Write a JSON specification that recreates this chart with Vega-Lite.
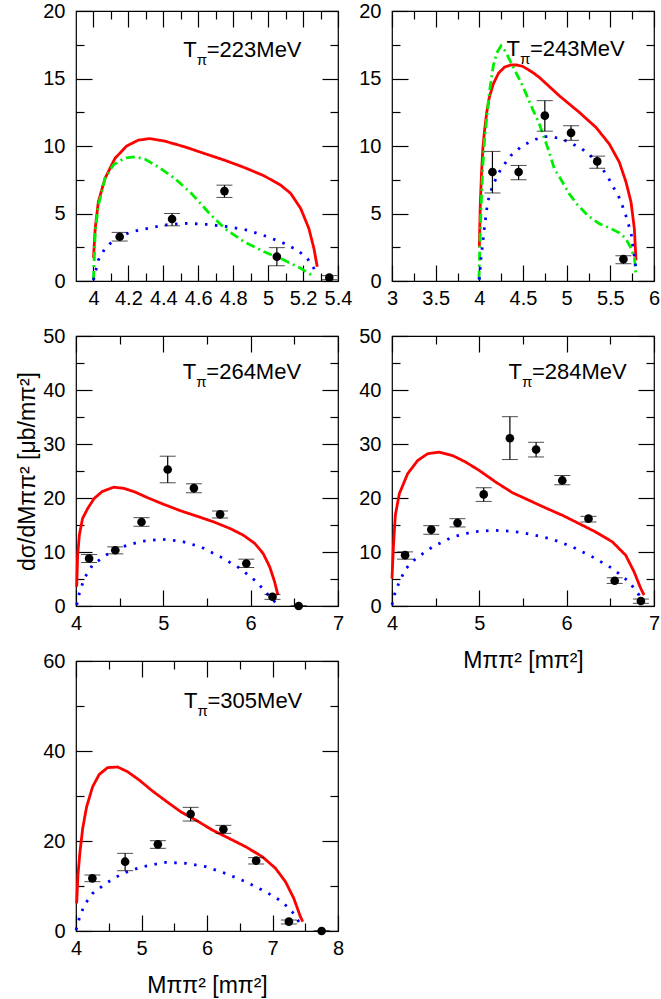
{
  "$schema": "https://vega.github.io/schema/vega-lite/v6.json",
  "description": "Dipion invariant mass spectra, five beam energies",
  "padding": {"left": 16, "top": 0, "right": 0, "bottom": 0},
  "background": "white",
  "datasets": {
    "points": [
      {"p": "p1", "x": 4.15, "y": 3.28, "lo": 2.96, "hi": 3.6},
      {"p": "p1", "x": 4.45, "y": 4.59, "lo": 4.09, "hi": 5.0},
      {"p": "p1", "x": 4.75, "y": 6.66, "lo": 6.19, "hi": 7.1},
      {"p": "p1", "x": 5.05, "y": 1.8, "lo": 1.13, "hi": 2.47},
      {"p": "p1", "x": 5.35, "y": 0.25, "lo": 0.1, "hi": 0.4},
      {"p": "p2", "x": 4.15, "y": 8.07, "lo": 6.52, "hi": 9.6},
      {"p": "p2", "x": 4.45, "y": 8.07, "lo": 7.5, "hi": 8.56},
      {"p": "p2", "x": 4.75, "y": 12.25, "lo": 11.1, "hi": 13.36},
      {"p": "p2", "x": 5.05, "y": 10.97, "lo": 10.42, "hi": 11.5},
      {"p": "p2", "x": 5.35, "y": 8.86, "lo": 8.35, "hi": 9.25},
      {"p": "p2", "x": 5.65, "y": 1.62, "lo": 1.28, "hi": 1.87},
      {"p": "p3", "x": 4.15, "y": 8.8, "lo": 8.06, "hi": 9.53},
      {"p": "p3", "x": 4.45, "y": 10.33, "lo": 9.66, "hi": 10.95},
      {"p": "p3", "x": 4.75, "y": 15.56, "lo": 14.76, "hi": 16.36},
      {"p": "p3", "x": 5.05, "y": 25.28, "lo": 22.82, "hi": 27.74},
      {"p": "p3", "x": 5.35, "y": 21.83, "lo": 20.97, "hi": 22.63},
      {"p": "p3", "x": 5.65, "y": 16.97, "lo": 16.3, "hi": 17.59},
      {"p": "p3", "x": 5.95, "y": 7.87, "lo": 7.13, "hi": 8.67},
      {"p": "p3", "x": 6.25, "y": 1.72, "lo": 1.23, "hi": 2.15},
      {"p": "p3", "x": 6.55, "y": 0.0, "lo": 0.0, "hi": 0.0},
      {"p": "p4", "x": 4.15, "y": 9.41, "lo": 8.67, "hi": 10.02},
      {"p": "p4", "x": 4.45, "y": 14.15, "lo": 13.28, "hi": 14.88},
      {"p": "p4", "x": 4.75, "y": 15.38, "lo": 14.64, "hi": 16.17},
      {"p": "p4", "x": 5.05, "y": 20.66, "lo": 19.37, "hi": 21.9},
      {"p": "p4", "x": 5.35, "y": 31.06, "lo": 27.12, "hi": 35.06},
      {"p": "p4", "x": 5.65, "y": 28.97, "lo": 27.6, "hi": 30.32},
      {"p": "p4", "x": 5.95, "y": 23.25, "lo": 22.45, "hi": 24.17},
      {"p": "p4", "x": 6.25, "y": 16.17, "lo": 15.56, "hi": 16.6},
      {"p": "p4", "x": 6.55, "y": 4.67, "lo": 4.18, "hi": 5.23},
      {"p": "p4", "x": 6.85, "y": 0.92, "lo": 0.49, "hi": 1.29},
      {"p": "p5", "x": 4.25, "y": 11.7, "lo": 10.96, "hi": 12.44},
      {"p": "p5", "x": 4.75, "y": 15.4, "lo": 13.4, "hi": 17.26},
      {"p": "p5", "x": 5.25, "y": 19.26, "lo": 18.37, "hi": 20.07},
      {"p": "p5", "x": 5.75, "y": 26.0, "lo": 24.44, "hi": 27.48},
      {"p": "p5", "x": 6.25, "y": 22.6, "lo": 21.7, "hi": 23.48},
      {"p": "p5", "x": 6.75, "y": 15.63, "lo": 14.89, "hi": 16.3},
      {"p": "p5", "x": 7.25, "y": 2.07, "lo": 1.56, "hi": 2.44},
      {"p": "p5", "x": 7.75, "y": 0.0, "lo": 0.0, "hi": 0.0}
    ],
    "labels": [
      {"p": "p1", "x": 4.514, "y": 16.62, "e": "=223MeV"},
      {"p": "p2", "x": 4.31, "y": 16.63, "e": "=243MeV"},
      {"p": "p3", "x": 5.223, "y": 42.1, "e": "=264MeV"},
      {"p": "p4", "x": 5.333, "y": 42.1, "e": "=284MeV"},
      {"p": "p5", "x": 5.649, "y": 49.6, "e": "=305MeV"}
    ],
    "curves": [
      {"p": "p1", "s": "full", "x": 4.0, "y": 1.7},
      {"p": "p1", "s": "full", "x": 4.01, "y": 3.9},
      {"p": "p1", "s": "full", "x": 4.028, "y": 5.87},
      {"p": "p1", "s": "full", "x": 4.066, "y": 7.6},
      {"p": "p1", "s": "full", "x": 4.123, "y": 9.08},
      {"p": "p1", "s": "full", "x": 4.19, "y": 10.0},
      {"p": "p1", "s": "full", "x": 4.256, "y": 10.43},
      {"p": "p1", "s": "full", "x": 4.323, "y": 10.55},
      {"p": "p1", "s": "full", "x": 4.408, "y": 10.36},
      {"p": "p1", "s": "full", "x": 4.522, "y": 9.94},
      {"p": "p1", "s": "full", "x": 4.636, "y": 9.44},
      {"p": "p1", "s": "full", "x": 4.75, "y": 8.95},
      {"p": "p1", "s": "full", "x": 4.863, "y": 8.41},
      {"p": "p1", "s": "full", "x": 4.977, "y": 7.79},
      {"p": "p1", "s": "full", "x": 5.072, "y": 7.1},
      {"p": "p1", "s": "full", "x": 5.129, "y": 6.49},
      {"p": "p1", "s": "full", "x": 5.186, "y": 5.38},
      {"p": "p1", "s": "full", "x": 5.233, "y": 3.9},
      {"p": "p1", "s": "full", "x": 5.262, "y": 2.42},
      {"p": "p1", "s": "full", "x": 5.281, "y": 1.06},
      {"p": "p1", "s": "dashdot", "x": 4.0, "y": 0.07},
      {"p": "p1", "s": "dashdot", "x": 4.01, "y": 3.65},
      {"p": "p1", "s": "dashdot", "x": 4.028, "y": 5.6},
      {"p": "p1", "s": "dashdot", "x": 4.066, "y": 7.6},
      {"p": "p1", "s": "dashdot", "x": 4.114, "y": 8.6},
      {"p": "p1", "s": "dashdot", "x": 4.18, "y": 9.12},
      {"p": "p1", "s": "dashdot", "x": 4.237, "y": 9.2},
      {"p": "p1", "s": "dashdot", "x": 4.294, "y": 9.03},
      {"p": "p1", "s": "dashdot", "x": 4.37, "y": 8.46},
      {"p": "p1", "s": "dashdot", "x": 4.465, "y": 7.6},
      {"p": "p1", "s": "dashdot", "x": 4.56, "y": 6.5},
      {"p": "p1", "s": "dashdot", "x": 4.655, "y": 5.13},
      {"p": "p1", "s": "dashdot", "x": 4.75, "y": 3.9},
      {"p": "p1", "s": "dashdot", "x": 4.863, "y": 2.9},
      {"p": "p1", "s": "dashdot", "x": 4.977, "y": 2.17},
      {"p": "p1", "s": "dashdot", "x": 5.091, "y": 1.55},
      {"p": "p1", "s": "dashdot", "x": 5.186, "y": 0.94},
      {"p": "p1", "s": "dashdot", "x": 5.262, "y": 0.32},
      {"p": "p1", "s": "dotted", "x": 4.0, "y": 0.07},
      {"p": "p1", "s": "dotted", "x": 4.028, "y": 1.55},
      {"p": "p1", "s": "dotted", "x": 4.066, "y": 2.42},
      {"p": "p1", "s": "dotted", "x": 4.123, "y": 3.1},
      {"p": "p1", "s": "dotted", "x": 4.218, "y": 3.65},
      {"p": "p1", "s": "dotted", "x": 4.313, "y": 3.9},
      {"p": "p1", "s": "dotted", "x": 4.427, "y": 4.19},
      {"p": "p1", "s": "dotted", "x": 4.54, "y": 4.27},
      {"p": "p1", "s": "dotted", "x": 4.655, "y": 4.19},
      {"p": "p1", "s": "dotted", "x": 4.769, "y": 4.02},
      {"p": "p1", "s": "dotted", "x": 4.882, "y": 3.77},
      {"p": "p1", "s": "dotted", "x": 4.996, "y": 3.28},
      {"p": "p1", "s": "dotted", "x": 5.091, "y": 2.79},
      {"p": "p1", "s": "dotted", "x": 5.167, "y": 2.29},
      {"p": "p1", "s": "dotted", "x": 5.224, "y": 1.68},
      {"p": "p1", "s": "dotted", "x": 5.262, "y": 0.94},
      {"p": "p1", "s": "dotted", "x": 5.281, "y": 0.4},
      {"p": "p2", "s": "full", "x": 4.0, "y": 2.5},
      {"p": "p2", "s": "full", "x": 4.01, "y": 5.5},
      {"p": "p2", "s": "full", "x": 4.025, "y": 8.0},
      {"p": "p2", "s": "full", "x": 4.04, "y": 9.8},
      {"p": "p2", "s": "full", "x": 4.057, "y": 11.0},
      {"p": "p2", "s": "full", "x": 4.085, "y": 12.5},
      {"p": "p2", "s": "full", "x": 4.114, "y": 13.6},
      {"p": "p2", "s": "full", "x": 4.16, "y": 14.6},
      {"p": "p2", "s": "full", "x": 4.22, "y": 15.4},
      {"p": "p2", "s": "full", "x": 4.29, "y": 15.85},
      {"p": "p2", "s": "full", "x": 4.362, "y": 16.0},
      {"p": "p2", "s": "full", "x": 4.43, "y": 16.0},
      {"p": "p2", "s": "full", "x": 4.496, "y": 15.9},
      {"p": "p2", "s": "full", "x": 4.6, "y": 15.5},
      {"p": "p2", "s": "full", "x": 4.687, "y": 15.08},
      {"p": "p2", "s": "full", "x": 4.8, "y": 14.41},
      {"p": "p2", "s": "full", "x": 4.916, "y": 13.72},
      {"p": "p2", "s": "full", "x": 5.145, "y": 12.49},
      {"p": "p2", "s": "full", "x": 5.336, "y": 11.38},
      {"p": "p2", "s": "full", "x": 5.488, "y": 10.15},
      {"p": "p2", "s": "full", "x": 5.603, "y": 8.8},
      {"p": "p2", "s": "full", "x": 5.68, "y": 7.32},
      {"p": "p2", "s": "full", "x": 5.737, "y": 5.84},
      {"p": "p2", "s": "full", "x": 5.775, "y": 3.87},
      {"p": "p2", "s": "full", "x": 5.794, "y": 1.53},
      {"p": "p2", "s": "dashdot", "x": 3.995, "y": 0.1},
      {"p": "p2", "s": "dashdot", "x": 4.005, "y": 2.4},
      {"p": "p2", "s": "dashdot", "x": 4.02, "y": 5.5},
      {"p": "p2", "s": "dashdot", "x": 4.04, "y": 8.5},
      {"p": "p2", "s": "dashdot", "x": 4.06, "y": 10.5},
      {"p": "p2", "s": "dashdot", "x": 4.076, "y": 11.5},
      {"p": "p2", "s": "dashdot", "x": 4.114, "y": 13.97},
      {"p": "p2", "s": "dashdot", "x": 4.16, "y": 15.94},
      {"p": "p2", "s": "dashdot", "x": 4.2, "y": 16.9},
      {"p": "p2", "s": "dashdot", "x": 4.248, "y": 17.42},
      {"p": "p2", "s": "dashdot", "x": 4.3, "y": 17.0},
      {"p": "p2", "s": "dashdot", "x": 4.381, "y": 15.94},
      {"p": "p2", "s": "dashdot", "x": 4.496, "y": 14.46},
      {"p": "p2", "s": "dashdot", "x": 4.61, "y": 12.73},
      {"p": "p2", "s": "dashdot", "x": 4.687, "y": 11.63},
      {"p": "p2", "s": "dashdot", "x": 4.801, "y": 9.53},
      {"p": "p2", "s": "dashdot", "x": 4.859, "y": 8.3},
      {"p": "p2", "s": "dashdot", "x": 4.935, "y": 7.52},
      {"p": "p2", "s": "dashdot", "x": 5.03, "y": 6.45},
      {"p": "p2", "s": "dashdot", "x": 5.125, "y": 5.64},
      {"p": "p2", "s": "dashdot", "x": 5.24, "y": 4.86},
      {"p": "p2", "s": "dashdot", "x": 5.374, "y": 4.24},
      {"p": "p2", "s": "dashdot", "x": 5.488, "y": 3.94},
      {"p": "p2", "s": "dashdot", "x": 5.603, "y": 3.57},
      {"p": "p2", "s": "dashdot", "x": 5.672, "y": 3.18},
      {"p": "p2", "s": "dashdot", "x": 5.725, "y": 2.59},
      {"p": "p2", "s": "dashdot", "x": 5.775, "y": 1.77},
      {"p": "p2", "s": "dashdot", "x": 5.794, "y": 0.42},
      {"p": "p2", "s": "dotted", "x": 4.0, "y": 0.1},
      {"p": "p2", "s": "dotted", "x": 4.019, "y": 1.67},
      {"p": "p2", "s": "dotted", "x": 4.057, "y": 3.89},
      {"p": "p2", "s": "dotted", "x": 4.095, "y": 5.85},
      {"p": "p2", "s": "dotted", "x": 4.153, "y": 7.08},
      {"p": "p2", "s": "dotted", "x": 4.248, "y": 8.31},
      {"p": "p2", "s": "dotted", "x": 4.362, "y": 9.3},
      {"p": "p2", "s": "dotted", "x": 4.496, "y": 10.04},
      {"p": "p2", "s": "dotted", "x": 4.648, "y": 10.5},
      {"p": "p2", "s": "dotted", "x": 4.75, "y": 10.7},
      {"p": "p2", "s": "dotted", "x": 4.86, "y": 10.65},
      {"p": "p2", "s": "dotted", "x": 4.973, "y": 10.44},
      {"p": "p2", "s": "dotted", "x": 5.068, "y": 10.15},
      {"p": "p2", "s": "dotted", "x": 5.175, "y": 9.78},
      {"p": "p2", "s": "dotted", "x": 5.267, "y": 9.33},
      {"p": "p2", "s": "dotted", "x": 5.412, "y": 8.3},
      {"p": "p2", "s": "dotted", "x": 5.48, "y": 7.61},
      {"p": "p2", "s": "dotted", "x": 5.534, "y": 6.95},
      {"p": "p2", "s": "dotted", "x": 5.591, "y": 6.33},
      {"p": "p2", "s": "dotted", "x": 5.634, "y": 5.64},
      {"p": "p2", "s": "dotted", "x": 5.672, "y": 4.97},
      {"p": "p2", "s": "dotted", "x": 5.706, "y": 4.24},
      {"p": "p2", "s": "dotted", "x": 5.737, "y": 3.57},
      {"p": "p2", "s": "dotted", "x": 5.767, "y": 2.14},
      {"p": "p2", "s": "dotted", "x": 5.786, "y": 1.4},
      {"p": "p2", "s": "dotted", "x": 5.794, "y": 0.67},
      {"p": "p3", "s": "full", "x": 4.008, "y": 3.57},
      {"p": "p3", "s": "full", "x": 4.019, "y": 9.4},
      {"p": "p3", "s": "full", "x": 4.038, "y": 13.1},
      {"p": "p3", "s": "full", "x": 4.075, "y": 16.2},
      {"p": "p3", "s": "full", "x": 4.132, "y": 18.0},
      {"p": "p3", "s": "full", "x": 4.207, "y": 19.9},
      {"p": "p3", "s": "full", "x": 4.3, "y": 21.2},
      {"p": "p3", "s": "full", "x": 4.432, "y": 22.0},
      {"p": "p3", "s": "full", "x": 4.545, "y": 21.8},
      {"p": "p3", "s": "full", "x": 4.677, "y": 21.1},
      {"p": "p3", "s": "full", "x": 4.827, "y": 20.0},
      {"p": "p3", "s": "full", "x": 5.015, "y": 18.76},
      {"p": "p3", "s": "full", "x": 5.203, "y": 17.6},
      {"p": "p3", "s": "full", "x": 5.391, "y": 16.6},
      {"p": "p3", "s": "full", "x": 5.579, "y": 15.56},
      {"p": "p3", "s": "full", "x": 5.767, "y": 14.33},
      {"p": "p3", "s": "full", "x": 5.917, "y": 13.1},
      {"p": "p3", "s": "full", "x": 6.049, "y": 11.56},
      {"p": "p3", "s": "full", "x": 6.143, "y": 9.72},
      {"p": "p3", "s": "full", "x": 6.218, "y": 7.26},
      {"p": "p3", "s": "full", "x": 6.274, "y": 4.49},
      {"p": "p3", "s": "full", "x": 6.312, "y": 2.03},
      {"p": "p3", "s": "dotted", "x": 4.008, "y": 0.2},
      {"p": "p3", "s": "dotted", "x": 4.038, "y": 2.3},
      {"p": "p3", "s": "dotted", "x": 4.094, "y": 5.1},
      {"p": "p3", "s": "dotted", "x": 4.188, "y": 7.56},
      {"p": "p3", "s": "dotted", "x": 4.338, "y": 9.4},
      {"p": "p3", "s": "dotted", "x": 4.526, "y": 10.95},
      {"p": "p3", "s": "dotted", "x": 4.752, "y": 12.0},
      {"p": "p3", "s": "dotted", "x": 4.977, "y": 12.36},
      {"p": "p3", "s": "dotted", "x": 5.203, "y": 12.0},
      {"p": "p3", "s": "dotted", "x": 5.429, "y": 10.95},
      {"p": "p3", "s": "dotted", "x": 5.654, "y": 9.1},
      {"p": "p3", "s": "dotted", "x": 5.88, "y": 6.95},
      {"p": "p3", "s": "dotted", "x": 6.068, "y": 4.49},
      {"p": "p3", "s": "dotted", "x": 6.2, "y": 2.03},
      {"p": "p3", "s": "dotted", "x": 6.293, "y": 0.5},
      {"p": "p4", "s": "full", "x": 4.0, "y": 5.1},
      {"p": "p4", "s": "full", "x": 4.015, "y": 10.64},
      {"p": "p4", "s": "full", "x": 4.038, "y": 16.8},
      {"p": "p4", "s": "full", "x": 4.084, "y": 20.8},
      {"p": "p4", "s": "full", "x": 4.179, "y": 24.5},
      {"p": "p4", "s": "full", "x": 4.294, "y": 26.94},
      {"p": "p4", "s": "full", "x": 4.408, "y": 28.2},
      {"p": "p4", "s": "full", "x": 4.541, "y": 28.5},
      {"p": "p4", "s": "full", "x": 4.694, "y": 27.86},
      {"p": "p4", "s": "full", "x": 4.846, "y": 26.63},
      {"p": "p4", "s": "full", "x": 4.999, "y": 25.1},
      {"p": "p4", "s": "full", "x": 5.189, "y": 22.94},
      {"p": "p4", "s": "full", "x": 5.38, "y": 20.97},
      {"p": "p4", "s": "full", "x": 5.571, "y": 19.56},
      {"p": "p4", "s": "full", "x": 5.761, "y": 18.14},
      {"p": "p4", "s": "full", "x": 5.952, "y": 16.79},
      {"p": "p4", "s": "full", "x": 6.143, "y": 15.25},
      {"p": "p4", "s": "full", "x": 6.333, "y": 13.7},
      {"p": "p4", "s": "full", "x": 6.524, "y": 11.87},
      {"p": "p4", "s": "full", "x": 6.676, "y": 9.4},
      {"p": "p4", "s": "full", "x": 6.772, "y": 6.33},
      {"p": "p4", "s": "full", "x": 6.848, "y": 3.26},
      {"p": "p4", "s": "full", "x": 6.886, "y": 2.03},
      {"p": "p4", "s": "dotted", "x": 4.0, "y": 0.2},
      {"p": "p4", "s": "dotted", "x": 4.027, "y": 2.03},
      {"p": "p4", "s": "dotted", "x": 4.084, "y": 4.49},
      {"p": "p4", "s": "dotted", "x": 4.16, "y": 6.95},
      {"p": "p4", "s": "dotted", "x": 4.274, "y": 8.8},
      {"p": "p4", "s": "dotted", "x": 4.465, "y": 10.95},
      {"p": "p4", "s": "dotted", "x": 4.694, "y": 12.79},
      {"p": "p4", "s": "dotted", "x": 4.923, "y": 13.71},
      {"p": "p4", "s": "dotted", "x": 5.151, "y": 14.02},
      {"p": "p4", "s": "dotted", "x": 5.38, "y": 13.84},
      {"p": "p4", "s": "dotted", "x": 5.609, "y": 13.22},
      {"p": "p4", "s": "dotted", "x": 5.838, "y": 12.36},
      {"p": "p4", "s": "dotted", "x": 6.066, "y": 10.95},
      {"p": "p4", "s": "dotted", "x": 6.295, "y": 9.1},
      {"p": "p4", "s": "dotted", "x": 6.524, "y": 6.95},
      {"p": "p4", "s": "dotted", "x": 6.714, "y": 4.49},
      {"p": "p4", "s": "dotted", "x": 6.829, "y": 2.03},
      {"p": "p4", "s": "dotted", "x": 6.859, "y": 0.8},
      {"p": "p5", "s": "full", "x": 4.01, "y": 6.15},
      {"p": "p5", "s": "full", "x": 4.03, "y": 12.44},
      {"p": "p5", "s": "full", "x": 4.061, "y": 17.63},
      {"p": "p5", "s": "full", "x": 4.102, "y": 22.8},
      {"p": "p5", "s": "full", "x": 4.162, "y": 27.6},
      {"p": "p5", "s": "full", "x": 4.254, "y": 32.07},
      {"p": "p5", "s": "full", "x": 4.355, "y": 34.8},
      {"p": "p5", "s": "full", "x": 4.482, "y": 36.3},
      {"p": "p5", "s": "full", "x": 4.635, "y": 36.44},
      {"p": "p5", "s": "full", "x": 4.787, "y": 35.4},
      {"p": "p5", "s": "full", "x": 4.964, "y": 33.56},
      {"p": "p5", "s": "full", "x": 5.168, "y": 31.1},
      {"p": "p5", "s": "full", "x": 5.371, "y": 28.9},
      {"p": "p5", "s": "full", "x": 5.599, "y": 26.5},
      {"p": "p5", "s": "full", "x": 5.827, "y": 24.67},
      {"p": "p5", "s": "full", "x": 6.081, "y": 22.44},
      {"p": "p5", "s": "full", "x": 6.335, "y": 20.6},
      {"p": "p5", "s": "full", "x": 6.589, "y": 18.74},
      {"p": "p5", "s": "full", "x": 6.843, "y": 16.52},
      {"p": "p5", "s": "full", "x": 7.046, "y": 13.93},
      {"p": "p5", "s": "full", "x": 7.198, "y": 10.96},
      {"p": "p5", "s": "full", "x": 7.325, "y": 7.26},
      {"p": "p5", "s": "full", "x": 7.426, "y": 3.19},
      {"p": "p5", "s": "full", "x": 7.462, "y": 2.07},
      {"p": "p5", "s": "dotted", "x": 4.0, "y": 0.2},
      {"p": "p5", "s": "dotted", "x": 4.051, "y": 2.8},
      {"p": "p5", "s": "dotted", "x": 4.127, "y": 5.78},
      {"p": "p5", "s": "dotted", "x": 4.254, "y": 8.37},
      {"p": "p5", "s": "dotted", "x": 4.457, "y": 10.6},
      {"p": "p5", "s": "dotted", "x": 4.711, "y": 12.8},
      {"p": "p5", "s": "dotted", "x": 5.015, "y": 14.3},
      {"p": "p5", "s": "dotted", "x": 5.371, "y": 15.26},
      {"p": "p5", "s": "dotted", "x": 5.675, "y": 15.04},
      {"p": "p5", "s": "dotted", "x": 5.98, "y": 14.3},
      {"p": "p5", "s": "dotted", "x": 6.284, "y": 12.8},
      {"p": "p5", "s": "dotted", "x": 6.589, "y": 10.96},
      {"p": "p5", "s": "dotted", "x": 6.893, "y": 8.74},
      {"p": "p5", "s": "dotted", "x": 7.147, "y": 6.52},
      {"p": "p5", "s": "dotted", "x": 7.299, "y": 4.3},
      {"p": "p5", "s": "dotted", "x": 7.401, "y": 2.07},
      {"p": "p5", "s": "dotted", "x": 7.462, "y": 0.6}
    ]
  },
  "columns": 2,
  "bounds": "flush",
  "spacing": {"row": 55, "column": 54},
  "concat": [
    {
      "width": 262, "height": 270,
      "resolve": {"axis": {"x": "independent", "y": "independent"}},
      "layer": [
        {
          "data": {"name": "curves"},
          "transform": [{"filter": "datum.p == 'p1'"}],
          "mark": {"type": "line", "strokeWidth": 2.8},
          "encoding": {
            "x": {"field": "x", "type": "quantitative", "scale": {"domain": [3.9, 5.4], "nice": false, "zero": false},
                  "axis": {"orient": "bottom", "values": [4, 4.2, 4.4, 4.6, 4.8, 5, 5.2, 5.4], "format": "~r", "title": null}},
            "y": {"field": "y", "type": "quantitative", "scale": {"domain": [0, 20], "nice": false},
                  "axis": {"orient": "left", "values": [0, 5, 10, 15, 20], "format": "~r", "title": null}},
            "color": {"field": "s", "type": "nominal", "legend": null,
                      "scale": {"domain": ["full", "dotted", "dashdot"], "range": ["#ff0000", "#0000ff", "#00ee00"]}},
            "strokeDash": {"field": "s", "type": "nominal", "legend": null,
                           "scale": {"domain": ["full", "dotted", "dashdot"], "range": [[1, 0], [2.5, 7.5], [9, 4, 2, 4]]}}
          }
        },
        {
          "data": {"name": "points"},
          "transform": [{"filter": "datum.p == 'p1'"}],
          "mark": {"type": "errorbar", "ticks": {"size": 16, "color": "black", "strokeWidth": 1.2}, "rule": {"color": "black", "strokeWidth": 1.2}},
          "encoding": {
            "x": {"field": "x", "type": "quantitative", "axis": null},
            "y": {"field": "lo", "type": "quantitative", "axis": null},
            "y2": {"field": "hi"}
          }
        },
        {
          "data": {"name": "points"},
          "transform": [{"filter": "datum.p == 'p1'"}],
          "mark": {"type": "circle", "size": 75, "color": "black", "opacity": 1},
          "encoding": {
            "x": {"field": "x", "type": "quantitative", "axis": null},
            "y": {"field": "y", "type": "quantitative", "axis": null}
          }
        },
        {
          "data": {"name": "labels"},
          "transform": [{"filter": "datum.p == 'p1'"}],
          "mark": {"type": "text", "text": "T", "fontSize": 22, "align": "left", "baseline": "alphabetic"},
          "encoding": {"x": {"field": "x", "type": "quantitative", "axis": null}, "y": {"field": "y", "type": "quantitative", "axis": null}}
        },
        {
          "data": {"name": "labels"},
          "transform": [{"filter": "datum.p == 'p1'"}],
          "mark": {"type": "text", "text": "π", "fontSize": 15, "align": "left", "baseline": "alphabetic", "dx": 13.5, "dy": 8},
          "encoding": {"x": {"field": "x", "type": "quantitative", "axis": null}, "y": {"field": "y", "type": "quantitative", "axis": null}}
        },
        {
          "data": {"name": "labels"},
          "transform": [{"filter": "datum.p == 'p1'"}],
          "mark": {"type": "text", "fontSize": 22, "align": "left", "baseline": "alphabetic", "dx": 23.5},
          "encoding": {"x": {"field": "x", "type": "quantitative", "axis": null}, "y": {"field": "y", "type": "quantitative", "axis": null}, "text": {"field": "e"}}
        },
        {
          "data": {"name": "points"},
          "transform": [{"filter": "datum.p == 'p1'"}],
          "mark": {"type": "point", "opacity": 0},
          "encoding": {
            "x": {"field": "x", "type": "quantitative", "axis": {"orient": "bottom", "values": [4.1, 4.3, 4.5, 4.7, 4.9, 5.1, 5.3], "labels": false, "tickSize": -8, "title": null}},
            "y": {"field": "y", "type": "quantitative", "axis": {"orient": "left", "values": [2.5, 7.5, 12.5, 17.5], "labels": false, "tickSize": -8, "title": null}}
          }
        },
        {
          "data": {"name": "points"},
          "transform": [{"filter": "datum.p == 'p1'"}],
          "mark": {"type": "point", "opacity": 0},
          "encoding": {
            "x": {"field": "x", "type": "quantitative", "axis": {"orient": "top", "values": [4, 4.2, 4.4, 4.6, 4.8, 5, 5.2, 5.4], "labels": false, "title": null}},
            "y": {"field": "y", "type": "quantitative", "axis": {"orient": "right", "values": [0, 5, 10, 15, 20], "labels": false, "title": null}}
          }
        },
        {
          "data": {"name": "points"},
          "transform": [{"filter": "datum.p == 'p1'"}],
          "mark": {"type": "point", "opacity": 0},
          "encoding": {
            "x": {"field": "x", "type": "quantitative", "axis": {"orient": "top", "values": [4.1, 4.3, 4.5, 4.7, 4.9, 5.1, 5.3], "labels": false, "tickSize": -8, "title": null}},
            "y": {"field": "y", "type": "quantitative", "axis": {"orient": "right", "values": [2.5, 7.5, 12.5, 17.5], "labels": false, "tickSize": -8, "title": null}}
          }
        }
      ]
    },
    {
      "width": 262, "height": 270,
      "resolve": {"axis": {"x": "independent", "y": "independent"}},
      "layer": [
        {
          "data": {"name": "curves"},
          "transform": [{"filter": "datum.p == 'p2'"}],
          "mark": {"type": "line", "strokeWidth": 2.8},
          "encoding": {
            "x": {"field": "x", "type": "quantitative", "scale": {"domain": [3, 6], "nice": false, "zero": false},
                  "axis": {"orient": "bottom", "values": [3, 3.5, 4, 4.5, 5, 5.5, 6], "format": "~r", "title": null}},
            "y": {"field": "y", "type": "quantitative", "scale": {"domain": [0, 20], "nice": false},
                  "axis": {"orient": "left", "values": [0, 5, 10, 15, 20], "format": "~r", "title": null}},
            "color": {"field": "s", "type": "nominal", "legend": null,
                      "scale": {"domain": ["full", "dotted", "dashdot"], "range": ["#ff0000", "#0000ff", "#00ee00"]}},
            "strokeDash": {"field": "s", "type": "nominal", "legend": null,
                           "scale": {"domain": ["full", "dotted", "dashdot"], "range": [[1, 0], [2.5, 7.5], [9, 4, 2, 4]]}}
          }
        },
        {
          "data": {"name": "points"},
          "transform": [{"filter": "datum.p == 'p2'"}],
          "mark": {"type": "errorbar", "ticks": {"size": 16, "color": "black", "strokeWidth": 1.2}, "rule": {"color": "black", "strokeWidth": 1.2}},
          "encoding": {
            "x": {"field": "x", "type": "quantitative", "axis": null},
            "y": {"field": "lo", "type": "quantitative", "axis": null},
            "y2": {"field": "hi"}
          }
        },
        {
          "data": {"name": "points"},
          "transform": [{"filter": "datum.p == 'p2'"}],
          "mark": {"type": "circle", "size": 75, "color": "black", "opacity": 1},
          "encoding": {
            "x": {"field": "x", "type": "quantitative", "axis": null},
            "y": {"field": "y", "type": "quantitative", "axis": null}
          }
        },
        {
          "data": {"name": "labels"},
          "transform": [{"filter": "datum.p == 'p2'"}],
          "mark": {"type": "text", "text": "T", "fontSize": 22, "align": "left", "baseline": "alphabetic"},
          "encoding": {"x": {"field": "x", "type": "quantitative", "axis": null}, "y": {"field": "y", "type": "quantitative", "axis": null}}
        },
        {
          "data": {"name": "labels"},
          "transform": [{"filter": "datum.p == 'p2'"}],
          "mark": {"type": "text", "text": "π", "fontSize": 15, "align": "left", "baseline": "alphabetic", "dx": 13.5, "dy": 8},
          "encoding": {"x": {"field": "x", "type": "quantitative", "axis": null}, "y": {"field": "y", "type": "quantitative", "axis": null}}
        },
        {
          "data": {"name": "labels"},
          "transform": [{"filter": "datum.p == 'p2'"}],
          "mark": {"type": "text", "fontSize": 22, "align": "left", "baseline": "alphabetic", "dx": 23.5},
          "encoding": {"x": {"field": "x", "type": "quantitative", "axis": null}, "y": {"field": "y", "type": "quantitative", "axis": null}, "text": {"field": "e"}}
        },
        {
          "data": {"name": "points"},
          "transform": [{"filter": "datum.p == 'p2'"}],
          "mark": {"type": "point", "opacity": 0},
          "encoding": {
            "x": {"field": "x", "type": "quantitative", "axis": {"orient": "bottom", "values": [3.25, 3.75, 4.25, 4.75, 5.25, 5.75], "labels": false, "tickSize": -8, "title": null}},
            "y": {"field": "y", "type": "quantitative", "axis": {"orient": "left", "values": [2.5, 7.5, 12.5, 17.5], "labels": false, "tickSize": -8, "title": null}}
          }
        },
        {
          "data": {"name": "points"},
          "transform": [{"filter": "datum.p == 'p2'"}],
          "mark": {"type": "point", "opacity": 0},
          "encoding": {
            "x": {"field": "x", "type": "quantitative", "axis": {"orient": "top", "values": [3, 3.5, 4, 4.5, 5, 5.5, 6], "labels": false, "title": null}},
            "y": {"field": "y", "type": "quantitative", "axis": {"orient": "right", "values": [0, 5, 10, 15, 20], "labels": false, "title": null}}
          }
        },
        {
          "data": {"name": "points"},
          "transform": [{"filter": "datum.p == 'p2'"}],
          "mark": {"type": "point", "opacity": 0},
          "encoding": {
            "x": {"field": "x", "type": "quantitative", "axis": {"orient": "top", "values": [3.25, 3.75, 4.25, 4.75, 5.25, 5.75], "labels": false, "tickSize": -8, "title": null}},
            "y": {"field": "y", "type": "quantitative", "axis": {"orient": "right", "values": [2.5, 7.5, 12.5, 17.5], "labels": false, "tickSize": -8, "title": null}}
          }
        }
      ]
    },
    {
      "width": 262, "height": 270,
      "resolve": {"axis": {"x": "independent", "y": "independent"}},
      "layer": [
        {
          "data": {"name": "curves"},
          "transform": [{"filter": "datum.p == 'p3'"}],
          "mark": {"type": "line", "strokeWidth": 2.8},
          "encoding": {
            "x": {"field": "x", "type": "quantitative", "scale": {"domain": [4, 7], "nice": false, "zero": false},
                  "axis": {"orient": "bottom", "values": [4, 5, 6, 7], "format": "~r", "title": null}},
            "y": {"field": "y", "type": "quantitative", "scale": {"domain": [0, 50], "nice": false},
                  "axis": {"orient": "left", "values": [0, 10, 20, 30, 40, 50], "format": "~r", "title": "dσ/dMππ² [μb/mπ²]"}},
            "color": {"field": "s", "type": "nominal", "legend": null,
                      "scale": {"domain": ["full", "dotted", "dashdot"], "range": ["#ff0000", "#0000ff", "#00ee00"]}},
            "strokeDash": {"field": "s", "type": "nominal", "legend": null,
                           "scale": {"domain": ["full", "dotted", "dashdot"], "range": [[1, 0], [2.5, 7.5], [9, 4, 2, 4]]}}
          }
        },
        {
          "data": {"name": "points"},
          "transform": [{"filter": "datum.p == 'p3'"}],
          "mark": {"type": "errorbar", "ticks": {"size": 16, "color": "black", "strokeWidth": 1.2}, "rule": {"color": "black", "strokeWidth": 1.2}},
          "encoding": {
            "x": {"field": "x", "type": "quantitative", "axis": null},
            "y": {"field": "lo", "type": "quantitative", "axis": null},
            "y2": {"field": "hi"}
          }
        },
        {
          "data": {"name": "points"},
          "transform": [{"filter": "datum.p == 'p3'"}],
          "mark": {"type": "circle", "size": 75, "color": "black", "opacity": 1},
          "encoding": {
            "x": {"field": "x", "type": "quantitative", "axis": null},
            "y": {"field": "y", "type": "quantitative", "axis": null}
          }
        },
        {
          "data": {"name": "labels"},
          "transform": [{"filter": "datum.p == 'p3'"}],
          "mark": {"type": "text", "text": "T", "fontSize": 22, "align": "left", "baseline": "alphabetic"},
          "encoding": {"x": {"field": "x", "type": "quantitative", "axis": null}, "y": {"field": "y", "type": "quantitative", "axis": null}}
        },
        {
          "data": {"name": "labels"},
          "transform": [{"filter": "datum.p == 'p3'"}],
          "mark": {"type": "text", "text": "π", "fontSize": 15, "align": "left", "baseline": "alphabetic", "dx": 13.5, "dy": 8},
          "encoding": {"x": {"field": "x", "type": "quantitative", "axis": null}, "y": {"field": "y", "type": "quantitative", "axis": null}}
        },
        {
          "data": {"name": "labels"},
          "transform": [{"filter": "datum.p == 'p3'"}],
          "mark": {"type": "text", "fontSize": 22, "align": "left", "baseline": "alphabetic", "dx": 23.5},
          "encoding": {"x": {"field": "x", "type": "quantitative", "axis": null}, "y": {"field": "y", "type": "quantitative", "axis": null}, "text": {"field": "e"}}
        },
        {
          "data": {"name": "points"},
          "transform": [{"filter": "datum.p == 'p3'"}],
          "mark": {"type": "point", "opacity": 0},
          "encoding": {
            "x": {"field": "x", "type": "quantitative", "axis": {"orient": "bottom", "values": [4.5, 5.5, 6.5], "labels": false, "tickSize": -8, "title": null}},
            "y": {"field": "y", "type": "quantitative", "axis": {"orient": "left", "values": [5, 15, 25, 35, 45], "labels": false, "tickSize": -8, "title": null}}
          }
        },
        {
          "data": {"name": "points"},
          "transform": [{"filter": "datum.p == 'p3'"}],
          "mark": {"type": "point", "opacity": 0},
          "encoding": {
            "x": {"field": "x", "type": "quantitative", "axis": {"orient": "top", "values": [4, 5, 6, 7], "labels": false, "title": null}},
            "y": {"field": "y", "type": "quantitative", "axis": {"orient": "right", "values": [0, 10, 20, 30, 40, 50], "labels": false, "title": null}}
          }
        },
        {
          "data": {"name": "points"},
          "transform": [{"filter": "datum.p == 'p3'"}],
          "mark": {"type": "point", "opacity": 0},
          "encoding": {
            "x": {"field": "x", "type": "quantitative", "axis": {"orient": "top", "values": [4.5, 5.5, 6.5], "labels": false, "tickSize": -8, "title": null}},
            "y": {"field": "y", "type": "quantitative", "axis": {"orient": "right", "values": [5, 15, 25, 35, 45], "labels": false, "tickSize": -8, "title": null}}
          }
        }
      ]
    },
    {
      "width": 262, "height": 270,
      "resolve": {"axis": {"x": "independent", "y": "independent"}},
      "layer": [
        {
          "data": {"name": "curves"},
          "transform": [{"filter": "datum.p == 'p4'"}],
          "mark": {"type": "line", "strokeWidth": 2.8},
          "encoding": {
            "x": {"field": "x", "type": "quantitative", "scale": {"domain": [4, 7], "nice": false, "zero": false},
                  "axis": {"orient": "bottom", "values": [4, 5, 6, 7], "format": "~r", "title": "Mππ² [mπ²]"}},
            "y": {"field": "y", "type": "quantitative", "scale": {"domain": [0, 50], "nice": false},
                  "axis": {"orient": "left", "values": [0, 10, 20, 30, 40, 50], "format": "~r", "title": null}},
            "color": {"field": "s", "type": "nominal", "legend": null,
                      "scale": {"domain": ["full", "dotted", "dashdot"], "range": ["#ff0000", "#0000ff", "#00ee00"]}},
            "strokeDash": {"field": "s", "type": "nominal", "legend": null,
                           "scale": {"domain": ["full", "dotted", "dashdot"], "range": [[1, 0], [2.5, 7.5], [9, 4, 2, 4]]}}
          }
        },
        {
          "data": {"name": "points"},
          "transform": [{"filter": "datum.p == 'p4'"}],
          "mark": {"type": "errorbar", "ticks": {"size": 16, "color": "black", "strokeWidth": 1.2}, "rule": {"color": "black", "strokeWidth": 1.2}},
          "encoding": {
            "x": {"field": "x", "type": "quantitative", "axis": null},
            "y": {"field": "lo", "type": "quantitative", "axis": null},
            "y2": {"field": "hi"}
          }
        },
        {
          "data": {"name": "points"},
          "transform": [{"filter": "datum.p == 'p4'"}],
          "mark": {"type": "circle", "size": 75, "color": "black", "opacity": 1},
          "encoding": {
            "x": {"field": "x", "type": "quantitative", "axis": null},
            "y": {"field": "y", "type": "quantitative", "axis": null}
          }
        },
        {
          "data": {"name": "labels"},
          "transform": [{"filter": "datum.p == 'p4'"}],
          "mark": {"type": "text", "text": "T", "fontSize": 22, "align": "left", "baseline": "alphabetic"},
          "encoding": {"x": {"field": "x", "type": "quantitative", "axis": null}, "y": {"field": "y", "type": "quantitative", "axis": null}}
        },
        {
          "data": {"name": "labels"},
          "transform": [{"filter": "datum.p == 'p4'"}],
          "mark": {"type": "text", "text": "π", "fontSize": 15, "align": "left", "baseline": "alphabetic", "dx": 13.5, "dy": 8},
          "encoding": {"x": {"field": "x", "type": "quantitative", "axis": null}, "y": {"field": "y", "type": "quantitative", "axis": null}}
        },
        {
          "data": {"name": "labels"},
          "transform": [{"filter": "datum.p == 'p4'"}],
          "mark": {"type": "text", "fontSize": 22, "align": "left", "baseline": "alphabetic", "dx": 23.5},
          "encoding": {"x": {"field": "x", "type": "quantitative", "axis": null}, "y": {"field": "y", "type": "quantitative", "axis": null}, "text": {"field": "e"}}
        },
        {
          "data": {"name": "points"},
          "transform": [{"filter": "datum.p == 'p4'"}],
          "mark": {"type": "point", "opacity": 0},
          "encoding": {
            "x": {"field": "x", "type": "quantitative", "axis": {"orient": "bottom", "values": [4.5, 5.5, 6.5], "labels": false, "tickSize": -8, "title": null}},
            "y": {"field": "y", "type": "quantitative", "axis": {"orient": "left", "values": [5, 15, 25, 35, 45], "labels": false, "tickSize": -8, "title": null}}
          }
        },
        {
          "data": {"name": "points"},
          "transform": [{"filter": "datum.p == 'p4'"}],
          "mark": {"type": "point", "opacity": 0},
          "encoding": {
            "x": {"field": "x", "type": "quantitative", "axis": {"orient": "top", "values": [4, 5, 6, 7], "labels": false, "title": null}},
            "y": {"field": "y", "type": "quantitative", "axis": {"orient": "right", "values": [0, 10, 20, 30, 40, 50], "labels": false, "title": null}}
          }
        },
        {
          "data": {"name": "points"},
          "transform": [{"filter": "datum.p == 'p4'"}],
          "mark": {"type": "point", "opacity": 0},
          "encoding": {
            "x": {"field": "x", "type": "quantitative", "axis": {"orient": "top", "values": [4.5, 5.5, 6.5], "labels": false, "tickSize": -8, "title": null}},
            "y": {"field": "y", "type": "quantitative", "axis": {"orient": "right", "values": [5, 15, 25, 35, 45], "labels": false, "tickSize": -8, "title": null}}
          }
        }
      ]
    },
    {
      "width": 262, "height": 270,
      "resolve": {"axis": {"x": "independent", "y": "independent"}},
      "layer": [
        {
          "data": {"name": "curves"},
          "transform": [{"filter": "datum.p == 'p5'"}],
          "mark": {"type": "line", "strokeWidth": 2.8},
          "encoding": {
            "x": {"field": "x", "type": "quantitative", "scale": {"domain": [4, 8], "nice": false, "zero": false},
                  "axis": {"orient": "bottom", "values": [4, 5, 6, 7, 8], "format": "~r", "title": "Mππ² [mπ²]"}},
            "y": {"field": "y", "type": "quantitative", "scale": {"domain": [0, 60], "nice": false},
                  "axis": {"orient": "left", "values": [0, 20, 40, 60], "format": "~r", "title": null}},
            "color": {"field": "s", "type": "nominal", "legend": null,
                      "scale": {"domain": ["full", "dotted", "dashdot"], "range": ["#ff0000", "#0000ff", "#00ee00"]}},
            "strokeDash": {"field": "s", "type": "nominal", "legend": null,
                           "scale": {"domain": ["full", "dotted", "dashdot"], "range": [[1, 0], [2.5, 7.5], [9, 4, 2, 4]]}}
          }
        },
        {
          "data": {"name": "points"},
          "transform": [{"filter": "datum.p == 'p5'"}],
          "mark": {"type": "errorbar", "ticks": {"size": 16, "color": "black", "strokeWidth": 1.2}, "rule": {"color": "black", "strokeWidth": 1.2}},
          "encoding": {
            "x": {"field": "x", "type": "quantitative", "axis": null},
            "y": {"field": "lo", "type": "quantitative", "axis": null},
            "y2": {"field": "hi"}
          }
        },
        {
          "data": {"name": "points"},
          "transform": [{"filter": "datum.p == 'p5'"}],
          "mark": {"type": "circle", "size": 75, "color": "black", "opacity": 1},
          "encoding": {
            "x": {"field": "x", "type": "quantitative", "axis": null},
            "y": {"field": "y", "type": "quantitative", "axis": null}
          }
        },
        {
          "data": {"name": "labels"},
          "transform": [{"filter": "datum.p == 'p5'"}],
          "mark": {"type": "text", "text": "T", "fontSize": 22, "align": "left", "baseline": "alphabetic"},
          "encoding": {"x": {"field": "x", "type": "quantitative", "axis": null}, "y": {"field": "y", "type": "quantitative", "axis": null}}
        },
        {
          "data": {"name": "labels"},
          "transform": [{"filter": "datum.p == 'p5'"}],
          "mark": {"type": "text", "text": "π", "fontSize": 15, "align": "left", "baseline": "alphabetic", "dx": 13.5, "dy": 8},
          "encoding": {"x": {"field": "x", "type": "quantitative", "axis": null}, "y": {"field": "y", "type": "quantitative", "axis": null}}
        },
        {
          "data": {"name": "labels"},
          "transform": [{"filter": "datum.p == 'p5'"}],
          "mark": {"type": "text", "fontSize": 22, "align": "left", "baseline": "alphabetic", "dx": 23.5},
          "encoding": {"x": {"field": "x", "type": "quantitative", "axis": null}, "y": {"field": "y", "type": "quantitative", "axis": null}, "text": {"field": "e"}}
        },
        {
          "data": {"name": "points"},
          "transform": [{"filter": "datum.p == 'p5'"}],
          "mark": {"type": "point", "opacity": 0},
          "encoding": {
            "x": {"field": "x", "type": "quantitative", "axis": {"orient": "bottom", "values": [4.5, 5.5, 6.5, 7.5], "labels": false, "tickSize": -8, "title": null}},
            "y": {"field": "y", "type": "quantitative", "axis": {"orient": "left", "values": [10, 30, 50], "labels": false, "tickSize": -8, "title": null}}
          }
        },
        {
          "data": {"name": "points"},
          "transform": [{"filter": "datum.p == 'p5'"}],
          "mark": {"type": "point", "opacity": 0},
          "encoding": {
            "x": {"field": "x", "type": "quantitative", "axis": {"orient": "top", "values": [4, 5, 6, 7, 8], "labels": false, "title": null}},
            "y": {"field": "y", "type": "quantitative", "axis": {"orient": "right", "values": [0, 20, 40, 60], "labels": false, "title": null}}
          }
        },
        {
          "data": {"name": "points"},
          "transform": [{"filter": "datum.p == 'p5'"}],
          "mark": {"type": "point", "opacity": 0},
          "encoding": {
            "x": {"field": "x", "type": "quantitative", "axis": {"orient": "top", "values": [4.5, 5.5, 6.5, 7.5], "labels": false, "tickSize": -8, "title": null}},
            "y": {"field": "y", "type": "quantitative", "axis": {"orient": "right", "values": [10, 30, 50], "labels": false, "tickSize": -8, "title": null}}
          }
        }
      ]
    }
  ],
  "config": {
    "font": "Liberation Sans",
    "view": {"stroke": "black", "strokeWidth": 1.2},
    "text": {"color": "black", "font": "Liberation Sans"},
    "axis": {
      "domain": false,
      "grid": false,
      "tickColor": "black",
      "tickWidth": 1.2,
      "tickSize": -16,
      "labelFont": "Liberation Sans",
      "labelFontSize": 20,
      "labelColor": "black",
      "labelFlush": false,
      "labelOverlap": false,
      "titleFont": "Liberation Sans",
      "titleFontSize": 23,
      "titleFontWeight": "normal",
      "titleColor": "black"
    },
    "axisX": {"labelPadding": 23, "titlePadding": 16},
    "axisY": {"labelPadding": 27, "titlePadding": 3}
  }
}
